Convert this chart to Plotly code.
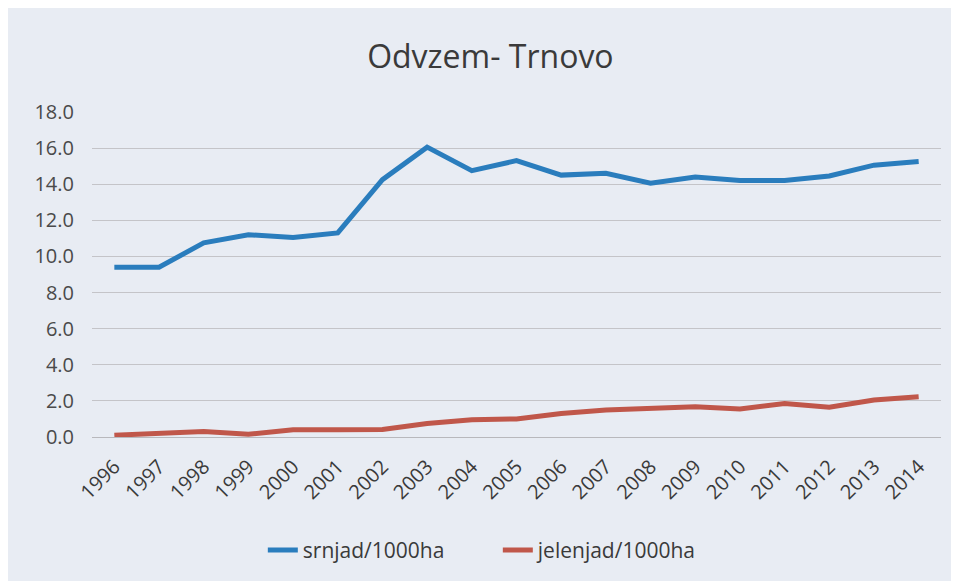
import plotly.graph_objects as go

years = [str(y) for y in range(1996, 2015)]
srnjad = [9.4, 9.4, 10.75, 11.2, 11.05, 11.3, 14.25, 16.05, 14.75, 15.3, 14.5, 14.6, 14.05, 14.4, 14.2, 14.2, 14.45, 15.05, 15.25]
jelenjad = [0.1, 0.2, 0.3, 0.15, 0.4, 0.4, 0.42, 0.75, 0.95, 1.0, 1.3, 1.5, 1.58, 1.67, 1.55, 1.85, 1.65, 2.05, 2.23]

font_fam = "Open Sans, Liberation Sans, sans-serif"

fig = go.Figure()
fig.add_trace(go.Scatter(x=years, y=srnjad, mode="lines", name="srnjad/1000ha",
                         line=dict(color="#2a7dbd", width=5)))
fig.add_trace(go.Scatter(x=years, y=jelenjad, mode="lines", name="jelenjad/1000ha",
                         line=dict(color="#c0574a", width=5)))

fig.update_layout(
    width=959, height=581,
    paper_bgcolor="#e8ecf3", plot_bgcolor="#e8ecf3",
    margin=dict(l=84, r=26, t=103, b=152),
    title=dict(text="Odvzem- Trnovo", x=0.503, xanchor="center", y=0.916, yanchor="middle",
               font=dict(family=font_fam, size=32, color="#3a3a3a")),
    font=dict(family=font_fam, color="#3a3a3a"),
    showlegend=True,
    legend=dict(orientation="h", x=0.478, xanchor="center", y=-0.285, yanchor="top",
                entrywidth=190, entrywidthmode="pixels",
                font=dict(size=21, color="#3a3a3a"), bgcolor="rgba(0,0,0,0)"),
    xaxis=dict(type="category", range=[-0.5, 18.5], tickangle=-45, automargin=False,
               tickfont=dict(size=20, color="#3a3a3a"),
               showgrid=False, showline=False, ticks="outside", ticklen=9,
               tickcolor="rgba(0,0,0,0)"),
    yaxis=dict(range=[0, 18.05], tickvals=[0, 2, 4, 6, 8, 10, 12, 14, 16, 18], tickformat=".1f",
               automargin=False,
               tickfont=dict(size=20, color="#4a4a4a"), gridcolor="#c4c4c8", gridwidth=1,
               zeroline=True, zerolinecolor="#b8b8bc", zerolinewidth=1, showline=False,
               ticks="outside", ticklen=13, tickcolor="rgba(0,0,0,0)"),
)

fig.write_html("out.html")
